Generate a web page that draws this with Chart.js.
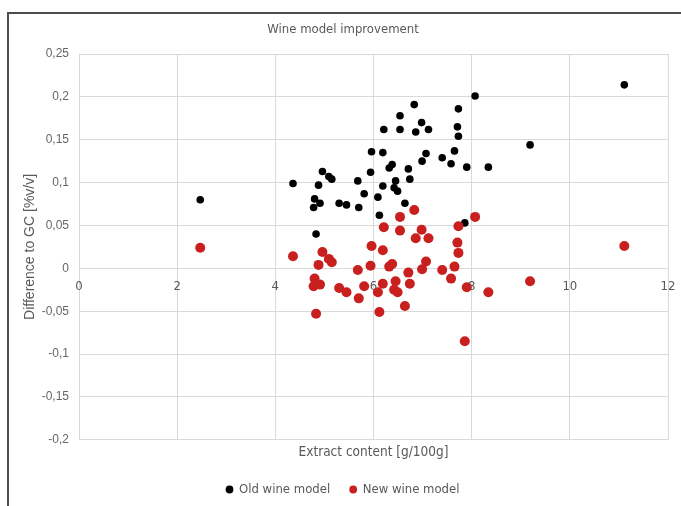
<!DOCTYPE html>
<html>
<head>
<meta charset="utf-8">
<script src="https://cdn.jsdelivr.net/npm/chart.js@4/dist/chart.umd.min.js"></script>
<style>
  body { margin: 0; background: #fff; }
  #wrap { position: relative; width: 681px; height: 506px; overflow: hidden; }
  #frame { position: absolute; left: 7px; top: 12px; width: 720px; height: 540px;
           border-left: 2px solid #4d4d4d; border-top: 2px solid #4d4d4d; pointer-events: none; }
</style>
</head>
<body>
<div id="wrap">
  <canvas id="wineChart" width="681" height="506"></canvas>
  <div id="frame"></div>
</div>
<script>
// extract content of each sample, g/100g
const extractContent = [
  2.47, 4.36, 4.78, 4.80, 4.83, 4.88, 4.91, 4.96, 5.09, 5.15,
  5.30, 5.45, 5.68, 5.70, 5.81, 5.94, 5.96, 6.09, 6.12, 6.19,
  6.19, 6.21, 6.32, 6.38, 6.42, 6.45, 6.49, 6.54, 6.54, 6.64,
  6.71, 6.74, 6.83, 6.86, 6.98, 6.99, 7.07, 7.12, 7.40, 7.58,
  7.65, 7.71, 7.73, 7.73, 7.86, 7.90, 8.07, 8.34, 9.19, 11.11
]
// difference to GC, %v/v
const oldModelDiff = [
  0.080, 0.099, 0.071, 0.081, 0.040, 0.097, 0.076, 0.113, 0.107, 0.104,
  0.076, 0.074, 0.102, 0.071, 0.087, 0.112, 0.136, 0.083, 0.062, 0.135,
  0.096, 0.162, 0.117, 0.121, 0.094, 0.102, 0.090, 0.178, 0.162, 0.076,
  0.116, 0.104, 0.191, 0.159, 0.170, 0.125, 0.134, 0.162, 0.129, 0.122,
  0.137, 0.165, 0.186, 0.154, 0.053, 0.118, 0.201, 0.118, 0.144, 0.214
]
const newModelDiff = [
  0.024, 0.014, -0.021, -0.012, -0.053, 0.004, -0.019, 0.019, 0.011, 0.007,
  -0.023, -0.028, -0.002, -0.035, -0.021, 0.003, 0.026, -0.028, -0.051, 0.021,
  -0.018, 0.048, 0.002, 0.005, -0.025, -0.015, -0.028, 0.060, 0.044, -0.044,
  -0.005, -0.018, 0.068, 0.035, 0.045, -0.001, 0.008, 0.035, -0.002, -0.012,
  0.002, 0.030, 0.049, 0.018, -0.085, -0.022, 0.060, -0.028, -0.015, 0.026
]
const seriesNames = ['Old wine model', 'New wine model']

const xTickValues = [0, 2, 4, 6, 8, 10, 12]
const xTickLabels = ['0', '2', '4', '6', '8', '10', '12']
const yTickValues = [-0.2, -0.15, -0.1, -0.05, 0, 0.05, 0.1, 0.15, 0.2, 0.25]
const yTickLabels = ['-0,2', '-0,15', '-0,1', '-0,05', '0', '0,05', '0,1', '0,15', '0,2', '0,25']

const narrow = '"Liberation Sans Narrow", "DejaVu Sans Condensed", "Roboto Condensed", "Liberation Sans", sans-serif'
const plain = '"Liberation Sans", Arial, sans-serif'
const grey = '#595959'
const gridGrey = '#d9d9d9'

function toPoints(ys) {
  return extractContent.map((x, i) => ({ x: x, y: ys[i] }))
}

const data = {
  datasets: [{
    label: seriesNames[0],
    data: toPoints(oldModelDiff),
    backgroundColor: '#000000',
    borderWidth: 0,
    pointRadius: 3.8,
    pointHoverRadius: 3.8,
    order: 1
  }, {
    label: seriesNames[1],
    data: toPoints(newModelDiff),
    backgroundColor: '#c8201f',
    borderWidth: 0,
    pointRadius: 5,
    pointHoverRadius: 5,
    order: 0
  }]
}

const config = {
  type: 'scatter',
  data,
  options: {
    responsive: false,
    animation: false,
    layout: { padding: { left: 18, right: 13, top: 12, bottom: 0 } },
    plugins: {
      tooltip: { enabled: false },
      title: {
        display: true,
        text: 'Wine model improvement',
        color: grey,
        font: { family: narrow, size: 13, weight: 'normal' },
        padding: { top: 10, bottom: 16.4 }
      },
      legend: {
        position: 'bottom',
        labels: {
          usePointStyle: true,
          pointStyle: 'circle',
          boxWidth: 6,
          boxHeight: 5.5,
          color: grey,
          font: { family: narrow, size: 13 },
          padding: 20,
          sort: (a, b) => a.datasetIndex - b.datasetIndex
        }
      }
    },
    scales: {
      x: {
        type: 'linear',
        position: { y: 0 },
        min: 0,
        max: 12,
        afterBuildTicks: (scale) => { scale.ticks = xTickValues.map(v => ({ value: v })) },
        ticks: {
          color: grey,
          font: { family: narrow, size: 13, lineHeight: 2.2 },
          padding: 4,
          callback: (value, index) => xTickLabels[index]
        },
        grid: { color: gridGrey, drawTicks: false },
        border: { display: false }
      },
      xTitle: {
        type: 'linear',
        axis: 'x',
        position: 'bottom',
        min: 0,
        max: 12,
        ticks: { display: false },
        grid: { display: false, drawTicks: false },
        border: { display: false },
        title: {
          display: true,
          text: 'Extract content [g/100g]',
          color: grey,
          font: { family: narrow, size: 13.5 },
          padding: { top: 5, bottom: 2 }
        }
      },
      y: {
        type: 'linear',
        min: -0.2,
        max: 0.25,
        afterBuildTicks: (scale) => { scale.ticks = yTickValues.map(v => ({ value: v })) },
        afterFit: (scale) => { scale.width = 61 },
        ticks: {
          color: '#666666',
          font: { family: plain, size: 12 },
          padding: 10,
          callback: (value, index) => yTickLabels[index]
        },
        grid: { color: gridGrey, drawTicks: false },
        border: { display: false },
        title: {
          display: true,
          text: 'Difference to GC [%v/v]',
          color: grey,
          font: { family: plain, size: 14 },
          padding: { top: 4, bottom: 0 }
        }
      }
    }
  }
}

new Chart(document.getElementById('wineChart'), config)
</script>
</body>
</html>
